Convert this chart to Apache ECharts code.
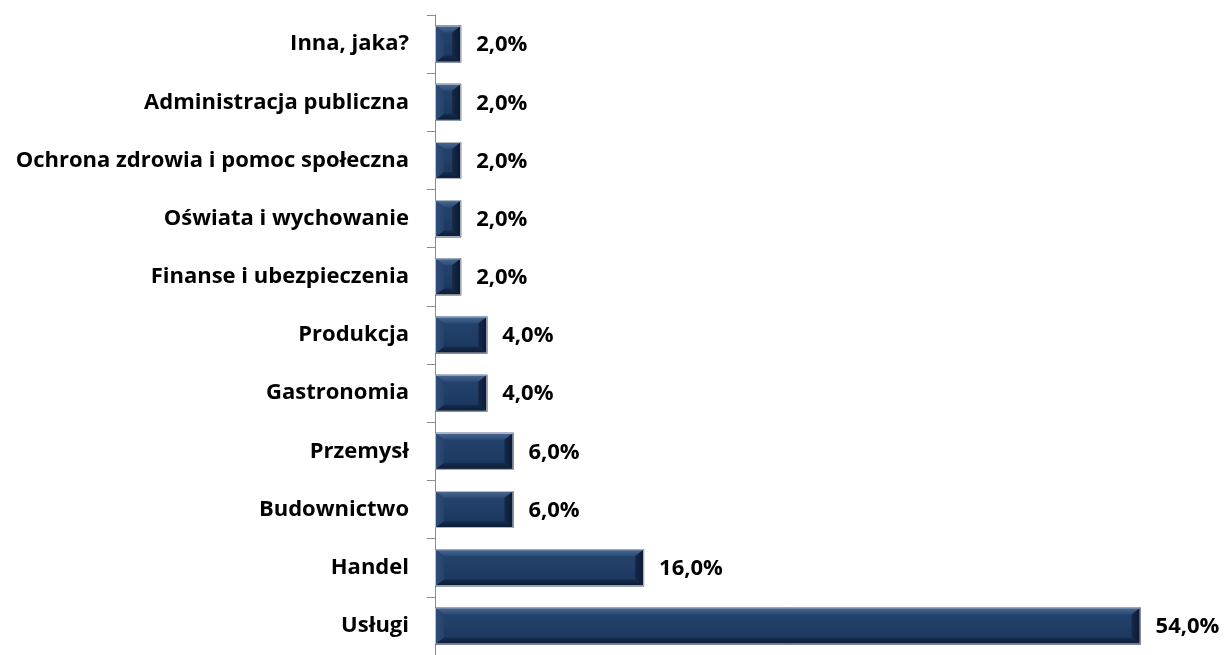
<!DOCTYPE html>
<html>
<head>
<meta charset="utf-8">
<script src="https://cdn.jsdelivr.net/npm/echarts@6/dist/echarts.min.js"></script>
<style>
  html, body { margin: 0; padding: 0; background: #fff; }
  #chart { width: 1227px; height: 655px; }
</style>
</head>
<body>
<div id="chart"></div>
<script>
// Branże (od góry do dołu) i udział procentowy
const categories = [
  'Inna, jaka?',
  'Administracja publiczna',
  'Ochrona zdrowia i pomoc społeczna',
  'Oświata i wychowanie',
  'Finanse i ubezpieczenia',
  'Produkcja',
  'Gastronomia',
  'Przemysł',
  'Budownictwo',
  'Handel',
  'Usługi'
];
const shares = [2.0, 2.0, 2.0, 2.0, 2.0, 4.0, 4.0, 6.0, 6.0, 16.0, 54.0];

const chart = echarts.init(document.getElementById('chart'));

const FONT = 'Open Sans';
const BAR_H = 37;

const vGrad = (a, b) => new echarts.graphic.LinearGradient(0, 0, 0, 1, [
  { offset: 0, color: a }, { offset: 1, color: b }
]);
const hGrad = (a, b) => new echarts.graphic.LinearGradient(0, 0, 1, 0, [
  { offset: 0, color: a }, { offset: 1, color: b }
]);

// Bevelled bar: flat face framed by four sloped edges
function renderBar(params, api) {
  const v = api.value(0);
  const cat = api.value(1);
  const p0 = api.coord([0, cat]);
  const p1 = api.coord([v, cat]);
  const x0 = p0[0], x1 = p1[0], yc = p0[1];
  const y0 = yc - BAR_H / 2, y1 = yc + BAR_H / 2;
  const bt = 7;
  const bs = Math.min(9, (x1 - x0) / 2 - 2);
  const poly = (pts, fill) => ({ type: 'polygon', shape: { points: pts }, style: { fill: fill } });
  return {
    type: 'group',
    children: [
      { type: 'rect', shape: { x: x0, y: y0, width: x1 - x0, height: BAR_H },
        style: { fill: vGrad('#25456f', '#1b365d') } },
      poly([[x0, y0], [x1, y0], [x1 - bs, y0 + bt], [x0 + bs, y0 + bt]], vGrad('#4c6a92', '#2a4a75')),
      poly([[x0, y1], [x1, y1], [x1 - bs, y1 - bt], [x0 + bs, y1 - bt]], vGrad('#162d50', '#0a1a31')),
      poly([[x0, y0], [x0 + bs, y0 + bt], [x0 + bs, y1 - bt], [x0, y1]], hGrad('#2f4e79', '#24426c')),
      poly([[x1, y0], [x1 - bs, y0 + bt], [x1 - bs, y1 - bt], [x1, y1]], hGrad('#16294a', '#0b1830')),
      { type: 'rect', shape: { x: x0 + 0.5, y: y0 + 0.5, width: x1 - x0 - 1, height: BAR_H - 1 },
        style: { fill: 'none', stroke: '#b8c0cb', lineWidth: 1 } },
      { type: 'text', x: x1 + 15, y: yc + 1,
        style: { text: v.toFixed(1).replace('.', ',') + '%', fill: '#000',
                 font: 'bold 22px "' + FONT + '"', verticalAlign: 'middle', align: 'left' } }
    ]
  };
}

chart.setOption({
  animation: false,
  grid: { left: 435, top: 15, width: 784, height: 649 },
  xAxis: {
    type: 'value',
    min: 0,
    max: 60,
    show: false
  },
  yAxis: {
    type: 'category',
    data: categories,
    inverse: true,
    axisLine: { show: true, lineStyle: { color: '#8c8c8c', width: 1 } },
    axisTick: { show: true, length: 8, lineStyle: { color: '#8c8c8c' } },
    axisLabel: {
      margin: 26,
      color: '#000',
      fontFamily: FONT,
      fontWeight: 'bold',
      fontSize: 22,
      lineHeight: 26,
      padding: [4, 0, 0, 0]
    }
  },
  series: [{
    type: 'custom',
    renderItem: renderBar,
    encode: { x: 0, y: 1 },
    data: shares.map((v, i) => [v, i])
  }]
});
</script>
</body>
</html>
